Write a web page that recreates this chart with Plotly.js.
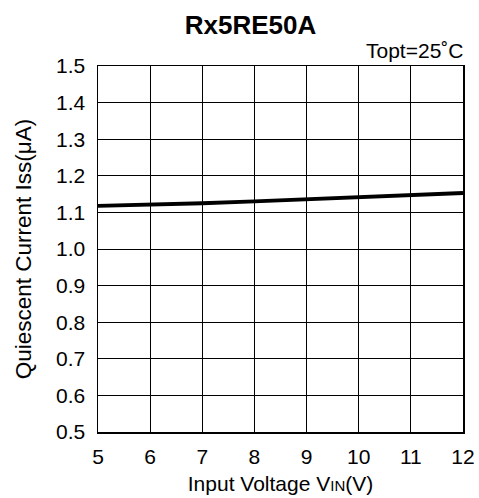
<!DOCTYPE html>
<html>
<head>
<meta charset="utf-8">
<script src="https://cdn.plot.ly/plotly-3.0.1.min.js"></script>
<style>html,body{margin:0;padding:0;background:#fff;}#chart{width:479px;height:498px;}</style>
</head>
<body>
<div id="chart"></div>
<script>
const vin = [5, 6, 7, 8, 9, 10, 11, 12];
const iss = [1.118, 1.121, 1.125, 1.130, 1.136, 1.142, 1.147, 1.153];
const xTicks = [5, 6, 7, 8, 9, 10, 11, 12];
const yTicks = [0.5, 0.6, 0.7, 0.8, 0.9, 1.0, 1.1, 1.2, 1.3, 1.4, 1.5];
const yTickLabels = ['0.5','0.6','0.7','0.8','0.9','1.0','1.1','1.2','1.3','1.4','1.5'];

const font = 'Liberation Sans, Arial, sans-serif';
const trace = {x: vin, y: iss, mode: 'lines', line: {color: '#000', width: 3.8}, hoverinfo: 'skip'};
const layout = {
  width: 479, height: 498,
  margin: {l: 98, r: 16, t: 66, b: 66},
  paper_bgcolor: '#fff', plot_bgcolor: '#fff',
  showlegend: false,
  font: {family: font, color: '#000', size: 21},
  title: {text: '<b>Rx5RE50A</b>', font: {size: 26, family: font, color: '#000'}, x: 0.418, xanchor: 'center', xref: 'paper', y: 0.951, yanchor: 'middle', yref: 'container'},
  xaxis: {
    range: [5, 12], tickvals: xTicks, ticktext: xTicks.map(String),
    showgrid: true, gridcolor: '#000', gridwidth: 1,
    showline: true, linecolor: '#000', linewidth: 1.5, mirror: true,
    zeroline: false, ticks: '', ticklen: 0, ticklabelstandoff: 5,
    tickfont: {size: 21, family: font, color: '#000'},
    title: {text: 'Input Voltage V<span style="font-size:15px">IN</span>(V)', font: {size: 21, family: font, color: '#000'}, standoff: 9}
  },
  yaxis: {
    range: [0.5, 1.5], tickvals: yTicks, ticktext: yTickLabels,
    showgrid: true, gridcolor: '#000', gridwidth: 1,
    showline: true, linecolor: '#000', linewidth: 1.5, mirror: true,
    zeroline: false, ticks: '', ticklen: 0, ticklabelstandoff: 7,
    tickfont: {size: 21, family: font, color: '#000'},
    title: {text: 'Quiescent Current Iss(μA)', font: {size: 22.5, family: font, color: '#000'}, standoff: 18}
  },
  annotations: [{
    text: 'Topt=25˚C', xref: 'paper', yref: 'paper', x: 1, y: 1, xanchor: 'right', yanchor: 'bottom',
    showarrow: false, font: {size: 21, family: font, color: '#000'}, xshift: 2, yshift: 2
  }]
};
Plotly.newPlot('chart', [trace], layout, {displayModeBar: false, staticPlot: true});
</script>
</body>
</html>
